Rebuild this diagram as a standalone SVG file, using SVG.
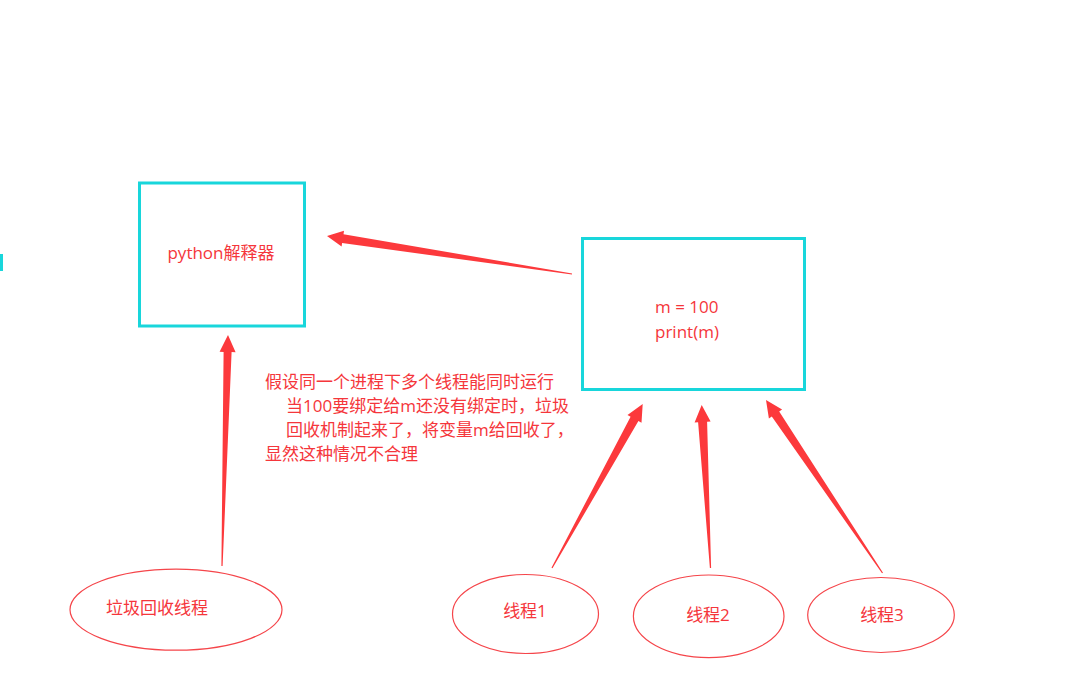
<svg xmlns="http://www.w3.org/2000/svg" width="1083" height="694" viewBox="0 0 1083 694">
<style>
.box{fill:none;stroke:#18d6db;stroke-width:3}
.ell{fill:none;stroke:#f5454a;stroke-width:1.2}
.t{font-family:"Open Sans","Noto Sans CJK SC",sans-serif;fill:#f5363b;font-size:17px}
.arr{fill:#fc393c}
</style>
<rect width="1083" height="694" fill="#fff"/>
<rect x="0" y="254" width="3" height="17" fill="#18d6db"/>
<g id="connectors">
<polygon class="arr" points="327,236 344.0,230.7 343.5,234.2 572.1,273.4 571.9,274.6 342.1,243.0 341.6,246.5"/>
<polygon class="arr" points="228,335 235.6,352.2 231.6,352.1 222.6,566 221.4,566 223.6,351.9 219.6,351.8"/>
<polygon class="arr" points="642.7,404 641.5,422.8 638.4,421.1 552.5,568.3 551.5,567.7 630.6,416.7 627.5,415.0"/>
<polygon class="arr" points="701.7,405 710.6,421.5 707.1,421.7 711.1,568 709.9,568 698.1,422.2 694.6,422.4"/>
<polygon class="arr" points="766,400 782.1,409.6 779.2,411.6 883.0,572.7 882.0,573.3 771.8,416.6 768.9,418.6"/>
</g>
<g id="interpreter">
<rect class="box" x="139.5" y="183" width="165" height="143"/>
<text class="t" x="221" y="259" text-anchor="middle">python解释器</text>
</g>
<g id="code">
<rect class="box" x="582.5" y="238.5" width="222" height="151"/>
<text class="t" x="655" y="313">m = 100</text>
<text class="t" x="655" y="338">print(m)</text>
</g>
<g id="note">
<text class="t" x="265" y="388">假设同一个进程下多个线程能同时运行</text>
<text class="t" x="286" y="412">当100要绑定给m还没有绑定时，垃圾</text>
<text class="t" x="286" y="436">回收机制起来了，将变量m给回收了，</text>
<text class="t" x="265" y="460">显然这种情况不合理</text>
</g>
<g id="gc">
<ellipse class="ell" cx="176" cy="609.7" rx="106" ry="40.5"/>
<text class="t" x="157" y="614" text-anchor="middle">垃圾回收线程</text>
</g>
<g id="thread1">
<ellipse class="ell" cx="525.5" cy="614" rx="73" ry="39.5"/>
<text class="t" x="525" y="617" text-anchor="middle">线程1</text>
</g>
<g id="thread2">
<ellipse class="ell" cx="708.7" cy="616.3" rx="75.3" ry="41.3"/>
<text class="t" x="708" y="621" text-anchor="middle">线程2</text>
</g>
<g id="thread3">
<ellipse class="ell" cx="881" cy="615" rx="73.3" ry="37.5"/>
<text class="t" x="882" y="621" text-anchor="middle">线程3</text>
</g>
</svg>
